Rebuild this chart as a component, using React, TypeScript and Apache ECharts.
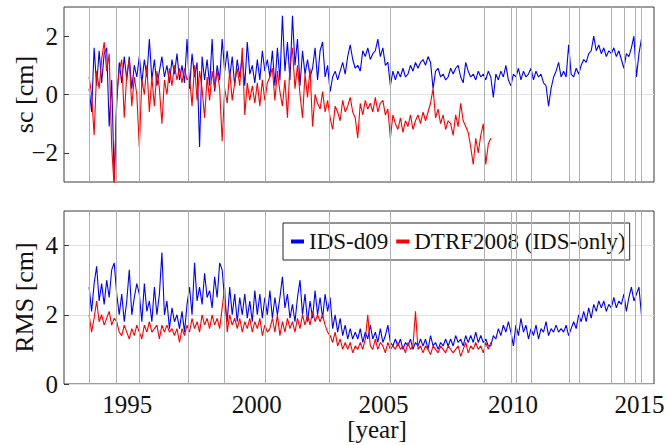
import React, { useEffect, useRef } from "react";
import * as echarts from "echarts";

// ---- data (weekly-ish solutions sampled every 0.1 year, starting 1993.0) ----
const START_YEAR = 1993.0;
const STEP = 0.1;

const SERIES_NAMES = ["IDS-d09", "DTRF2008 (IDS-only)"];

// scale factor sc [cm], IDS-d09 (1993.0 .. 2015.0)
const IDS_SC = [
  0.2, -0.6, 1.6, 0.3, 1.5, 0.4, 1.4, 1.6, -1.1, 0.5,
  -2.9, -0.3, 1.1, 0.4, 1.3, 0.5, 1.3, 0.2, 1.0, 0.6,
  1.3, 0.4, 1.2, 0.6, 1.9, 0.5, 1.2, 0.3, 0.8, 1.3,
  0.6, 1.0, 0.4, 1.2, 0.7, 1.4, 0.5, 1.0, 0.4, 1.9,
  0.2, 1.4, 0.6, 1.1, -1.8, 1.3, 0.5, 1.2, 0.3, 1.9,
  0.1, 1.0, 0.5, 1.9, 0.8, 1.5, 0.6, 1.3, 0.3, 1.2,
  0.6, 1.3, 0.3, 1.8, 0.7, 1.0, 0.4, 1.2, 0.5, 1.5,
  0.8, 1.2, 0.6, 1.5, 0.3, 1.6, 0.5, 2.7, 0.8, 1.8,
  0.5, 2.7, 1.0, 1.9, 0.3, 1.5, 0.7, 1.2, 0.6, 0.9,
  1.6, 0.5, 1.5, 1.8, 0.6, 1.0, 0.1, 0.6, 0.8, 0.5,
  0.8, 1.1, 0.7, 1.3, 1.7, 1.2, 0.9, 1.0, 0.8, 1.5,
  1.3, 1.6, 1.2, 1.4, 1.5, 1.9, 1.3, 1.6, 1.0, 1.1,
  0.3, 0.8, 0.5, 0.8, 0.6, 0.9, 0.6, 0.7, 1.0, 0.8,
  1.1, 0.9, 1.1, 1.2, 1.0, 1.3, 1.1, 0.2, 0.8, 0.9,
  0.6, 0.7, 0.5, 0.6, 0.9, 0.7, 0.9, 1.0, 0.6, 0.4,
  1.1, 0.8, 0.6, 0.7, 0.5, 0.8, 0.6, 0.7, 0.5, 0.8,
  0.6, -0.1, 0.7, 0.5, 0.8, 0.6, 1.0, 0.5, 0.3, 0.7,
  0.6, 0.9, 0.5, 0.8, 0.6, 0.7, 0.9, 0.5, 0.8, 0.6,
  0.7, 0.4, 0.3, -0.4, 0.2, 0.6, 0.8, 1.1, 0.6, 0.8,
  0.6, 1.7, 0.7, 0.6, 0.9, 0.7, 1.0, 1.2, 1.1, 1.4,
  1.5, 2.0, 1.5, 1.7, 1.4, 1.6, 1.3, 1.5, 1.4, 1.6,
  1.3, 1.5, 1.2, 0.9, 1.4, 1.3, 1.6, 2.0, 0.6, 1.4,
  1.9,
];

// scale factor sc [cm], DTRF2008 (1993.0 .. 2009.0)
const DTRF_SC = [
  0.6, 0.0, -1.4, 0.8, 0.2, 1.2, 1.8, 0.8, 1.4, -1.8,
  -3.2, 0.0, 0.8, 1.2, -0.8, 0.7, 1.2, -0.4, 0.6, 0.0,
  -1.8, 0.5, 0.0, 1.0, -0.6, 0.6, -0.4, 0.8, 0.2, -1.0,
  0.5, 0.0, 0.9, 0.3, 1.0, 0.5, 0.9, 0.4, 0.9, 0.5,
  0.6, -0.4, 1.0, -0.2, 0.8, 0.2, -0.8, 0.6, -0.2, 0.8,
  0.2, 0.8, 0.2, -1.6, 0.2, -0.3, 0.8, -0.2, 0.4, 0.9,
  0.3, 1.6, -0.7, 0.4, -0.2, 0.3, -0.3, 0.4, -0.4, 0.5,
  -0.2, 0.4, 0.6, 0.9, -0.2, 0.8, 0.1, -0.4, 0.5, -0.8,
  1.0, 1.6, 0.2, 1.0, 0.0, -0.8, 0.7, -0.1, 0.9, -1.1,
  0.0, -0.3, -0.5, 0.1, -0.6, -0.2, -0.8, -1.2, -0.4, -0.6,
  -0.9, -0.2, -0.6, -0.4, -0.1, -0.6, -0.8, -1.5, -0.3, -0.7,
  -0.2, -0.5, -0.3, -0.6, -0.1, -0.6, -0.3, -0.2, -0.7, -0.5,
  -1.5, -0.7, -1.0, -1.2, -0.8, -1.3, -0.9, -1.1, -0.7, -1.2,
  -0.9, -0.7, -1.0, -0.6, -0.9, -0.6, -0.3, 0.2, -0.8, -0.5,
  -1.0, -0.7, -1.2, -0.9, -1.0, -1.4, -0.7, -1.1, -0.3, -0.9,
  -1.1, -1.3, -1.8, -2.4, -1.5, -2.0, -1.4, -1.0, -2.4, -1.7,
  -1.5,
];

// RMS [cm], IDS-d09 (1993.0 .. 2015.0)
const IDS_RMS = [
  2.8, 2.1, 2.9, 3.4, 2.4, 2.9, 2.3, 3.0, 2.5, 3.3,
  3.5, 2.6, 2.0, 2.6, 1.8, 2.4, 3.3, 2.0, 2.5, 2.9,
  2.6, 1.8, 2.9, 2.1, 2.4, 1.8, 2.8, 2.0, 2.6, 3.8,
  2.0, 2.4, 1.6, 2.2, 1.8, 2.0, 1.6, 2.1, 1.5, 2.3,
  2.8, 2.0, 3.5, 2.4, 2.8, 2.3, 3.2, 2.5, 2.7, 2.2,
  3.1, 2.5, 3.5, 3.3, 2.4, 1.8, 2.8, 2.0, 2.6, 1.8,
  2.5, 2.0, 2.6, 1.9, 2.4, 1.8, 2.7, 2.0, 2.6, 1.9,
  2.5, 2.0, 2.7, 1.9, 2.5, 2.0, 2.5, 3.1, 2.2, 2.6,
  1.9, 2.3, 1.8, 2.5, 3.0, 2.0, 2.6, 1.8, 2.4, 1.9,
  2.7, 2.0, 2.5, 1.9, 2.6, 2.1, 2.5, 1.6, 2.0, 1.5,
  1.9, 1.4, 1.7, 1.3, 1.6, 1.3, 1.5, 1.3, 1.6, 1.2,
  1.5, 1.3, 1.7, 1.3, 1.5, 1.2, 1.6, 1.2, 1.4, 1.7,
  1.2, 1.1, 1.3, 1.1, 1.3, 1.0, 1.2, 1.1, 1.3, 1.0,
  1.2, 1.1, 1.3, 1.1, 1.3, 1.0, 1.4, 1.1, 1.2, 1.0,
  1.2, 1.1, 1.3, 1.1, 1.3, 1.1, 1.4, 1.2, 1.3, 1.1,
  1.4, 1.2, 1.4, 1.2, 1.5, 1.2, 1.4, 1.2, 1.3, 1.1,
  1.1, 1.4, 1.3, 1.6, 1.4, 1.7, 1.5, 1.8, 1.5, 1.1,
  1.7, 1.4, 1.9, 1.5, 1.7, 1.3, 1.6, 1.4, 1.7, 1.3,
  1.6, 1.5, 1.8, 1.4, 1.6, 1.5, 1.7, 1.5, 1.6, 1.5,
  1.7, 1.4, 1.6, 1.8, 1.6, 2.0, 1.8, 2.1, 1.8, 2.2,
  1.9, 2.3, 2.1, 2.4, 2.2, 2.4, 2.1, 2.3, 2.2, 2.5,
  2.2, 2.4, 2.3, 2.6, 2.1, 2.5, 2.8, 2.4, 2.6, 2.8,
  2.0,
];

// RMS [cm], DTRF2008 (1993.0 .. 2009.0)
const DTRF_RMS = [
  2.0, 1.5, 1.9, 2.4, 1.8, 2.0, 1.7, 1.9, 2.1, 1.7,
  1.9, 1.8, 1.5, 1.4, 1.7, 1.5, 1.3, 1.6, 1.4, 1.7,
  1.5, 1.3, 1.7, 1.5, 1.8, 1.5, 1.6, 1.7, 1.3, 1.7,
  1.5, 1.7, 1.5, 1.6, 1.4, 1.6, 1.2, 1.6, 1.4, 1.7,
  1.5, 1.9, 1.6, 1.8, 1.5, 2.0, 1.7, 1.9, 1.6, 2.0,
  1.7, 1.9, 1.6, 2.2, 2.8, 1.5, 2.0, 1.7, 1.9, 1.6,
  1.9, 1.5, 1.8, 1.6, 1.9, 1.5, 1.8, 1.6, 1.9, 1.4,
  1.7, 1.5, 1.6, 1.9, 1.5, 2.0, 1.4, 1.8, 1.5, 1.9,
  1.6, 1.8, 1.5, 1.9, 1.6, 2.0, 1.7, 2.0, 1.7, 2.1,
  1.8, 2.0, 1.8, 2.0, 1.7, 1.5, 1.4, 1.2, 1.5, 1.1,
  1.3, 1.0, 1.2, 1.0, 1.2, 0.9, 1.1, 1.0, 1.2, 1.0,
  1.3, 2.0, 1.1, 1.0, 1.3, 1.0, 1.2, 1.1, 0.9, 1.2,
  1.0, 1.1, 1.0, 1.2, 1.0, 1.1, 0.9, 1.2, 1.0, 1.1,
  2.1, 1.0, 1.1, 0.9, 1.1, 1.0, 0.85, 1.1, 1.0, 0.9,
  1.1, 1.0, 0.9, 1.1, 1.0, 0.9, 1.0, 1.1, 0.8, 1.0,
  1.2, 0.9, 1.1, 1.0, 1.2, 1.0, 1.1, 0.9, 1.2, 1.0,
  1.2,
];

// axis ticks and discontinuity epochs (vertical lines)
const YEAR_TICKS = [1995, 2000, 2005, 2010, 2015];
const SC_TICKS = [-2, 0, 2];
const RMS_TICKS = [0, 2, 4];
const DISCONTINUITIES = [
  1993.0, 1994.07, 1996.95, 1998.4, 2002.57, 2008.75, 2009.8, 2010.63,
  2012.13, 2012.53, 2013.78, 2014.31, 2014.76,
];

// ---- styles ----
const FONT = "Liberation Serif";
const TXT = "#111111";
const FRAME = "#3a3a3a";
const HGRID = "#e2e2e2";
const VGRID = "#b0b0b0";
const BLUE = "#0000ff";
const RED = "#ff0000";
// horizontal nudge (px, leftwards) of the year labels as in the reference
const LABEL_NUDGE: Record<number, number> = { 1995: 12, 2000: 8, 2005: 7, 2010: 3, 2015: 2 };

const toPairs = (vals: number[]) =>
  vals.map((v, i) => [Math.round((START_YEAR + i * STEP) * 100) / 100, v]);

const fmtNum = (v: number) => (v < 0 ? "\u2212" + Math.abs(v) : String(v));

function buildOption() {
  const xAxis = (gridIndex: number, visible: boolean) => {
    const col = visible ? TXT : "rgba(0,0,0,0)";
    const rich: Record<string, any> = {};
    YEAR_TICKS.forEach((y) => {
      rich["y" + y] = {
        fontFamily: FONT,
        fontSize: 25,
        color: col,
        padding: [0, 2 * (LABEL_NUDGE[y] || 0), 0, 0],
      };
    });
    return {
      type: "value",
      gridIndex,
      min: 1992,
      max: 2015.5,
      axisLine: { show: false },
      splitLine: { show: false },
      axisTick: {
        show: true,
        inside: true,
        length: 5,
        customValues: YEAR_TICKS,
        lineStyle: { color: FRAME },
      },
      axisLabel: {
        show: true,
        customValues: YEAR_TICKS,
        margin: 8,
        fontFamily: FONT,
        fontSize: 25,
        color: col,
        formatter: (v: number) => (YEAR_TICKS.includes(v) ? `{y${v}|${v}}` : ""),
        rich,
      },
      name: visible ? "[year]" : "",
      nameLocation: "middle",
      nameGap: 33,
      nameMoveOverlap: false,
      nameTextStyle: {
        fontFamily: FONT,
        fontSize: 25,
        color: col,
        padding: [0, 0, 0, 36],
      },
    };
  };

  const yAxis = (
    gridIndex: number,
    min: number,
    max: number,
    ticks: number[],
    name: string,
    gridColors: any,
    nameGap: number
  ) => ({
    type: "value",
    gridIndex,
    min,
    max,
    interval: 1,
    axisLine: { show: false },
    axisTick: {
      show: true,
      inside: true,
      length: 5,
      customValues: ticks,
      lineStyle: { color: FRAME },
    },
    axisLabel: {
      customValues: ticks,
      formatter: (v: number) => (ticks.includes(v) ? fmtNum(v) : ""),
      fontFamily: FONT,
      fontSize: 25,
      color: TXT,
      margin: 6,
    },
    splitLine: { show: true, lineStyle: { color: gridColors, width: 1 } },
    name,
    nameLocation: "middle",
    nameGap,
    nameMoveOverlap: false,
    nameTextStyle: { fontFamily: FONT, fontSize: 26, color: TXT },
  });

  const vLines = [...YEAR_TICKS, ...DISCONTINUITIES].map((x) => ({ xAxis: x }));

  const markSeries = (idx: number) => ({
    type: "line",
    xAxisIndex: idx,
    yAxisIndex: idx,
    data: [],
    silent: true,
    z: 1,
    markLine: {
      silent: true,
      symbol: ["none", "none"],
      label: { show: false },
      lineStyle: { color: VGRID, width: 1, type: "solid" },
      data: vLines,
    },
  });

  const dataSeries = (idx: number, name: string, vals: number[], color: string, z: number) => ({
    type: "line",
    name,
    xAxisIndex: idx,
    yAxisIndex: idx,
    data: toPairs(vals),
    showSymbol: false,
    symbol: "none",
    clip: true,
    z,
    lineStyle: { color, width: 1.1 },
    itemStyle: { color },
  });

  const gridBase = {
    left: 64,
    width: 590,
    show: true,
    borderColor: FRAME,
    borderWidth: 1,
    backgroundColor: "transparent",
    containLabel: false,
    outerBoundsMode: "none",
  };

  return {
    animation: false,
    backgroundColor: "#ffffff",
    textStyle: { fontFamily: FONT },
    grid: [
      { ...gridBase, top: 7, height: 175 },
      { ...gridBase, top: 211, height: 173 },
    ],
    xAxis: [xAxis(0, false), xAxis(1, true)],
    yAxis: [
      yAxis(0, -3, 3, SC_TICKS, "sc [cm]", ["transparent", HGRID], 27),
      yAxis(1, 0, 5, RMS_TICKS, "RMS [cm]", [HGRID], 27),
    ],
    legend: {
      data: SERIES_NAMES,
      left: 283,
      top: 223,
      orient: "horizontal",
      icon: "rect",
      itemWidth: 13,
      itemHeight: 4,
      itemGap: 8,
      padding: [5, 4, 5, 8],
      backgroundColor: "#ffffff",
      borderColor: "#262626",
      borderWidth: 1,
      borderRadius: 0,
      selectedMode: false,
      textStyle: { fontFamily: FONT, fontSize: 23, color: TXT, lineHeight: 27 },
    },
    series: [
      markSeries(0),
      markSeries(1),
      dataSeries(0, SERIES_NAMES[0], IDS_SC, BLUE, 2),
      dataSeries(0, SERIES_NAMES[1], DTRF_SC, RED, 3),
      dataSeries(1, SERIES_NAMES[0], IDS_RMS, BLUE, 2),
      dataSeries(1, SERIES_NAMES[1], DTRF_RMS, RED, 3),
    ],
  };
}

export default function App() {
  const ref = useRef<HTMLDivElement | null>(null);
  useEffect(() => {
    document.body.style.margin = "0";
    if (!ref.current) return;
    const chart = echarts.init(ref.current, undefined, { renderer: "svg" });
    chart.setOption(buildOption() as any);
    return () => chart.dispose();
  }, []);
  return (
    <div
      ref={ref}
      style={{ position: "absolute", left: 0, top: 0, width: 669, height: 445, background: "#fff" }}
    />
  );
}
